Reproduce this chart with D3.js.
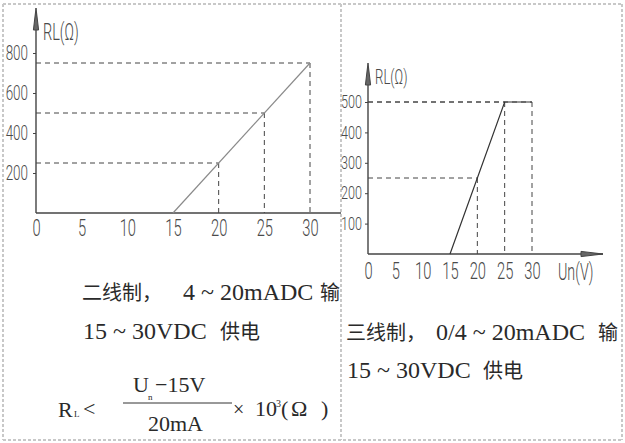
<!DOCTYPE html>
<html><head><meta charset="utf-8">
<script src="https://cdn.jsdelivr.net/npm/d3@7/dist/d3.min.js"></script>
<style>
html,body{margin:0;padding:0;background:#fff;}
svg{display:block;}
.tick text,.nar{font-family:Roboto,"DejaVu Sans",sans-serif;font-weight:300;fill:#4a4a4a;}
.ser{font-family:"Liberation Serif","Noto Sans CJK SC",serif;fill:#2a2a2a;}
.cjk{font-family:"Noto Sans CJK SC",sans-serif;font-weight:400;}
</style></head>
<body>
<script>
// ---- data ----
const leftXTicks = [0, 5, 10, 15, 20, 25, 30];
const leftYTicks = [200, 400, 600, 800];
const leftLineX = [15, 30];
const leftLineY = [0, 750];
const leftGuideX = [20, 25, 30];
const leftGuideY = [250, 500, 750];

const rightXTicks = [0, 5, 10, 15, 20, 25, 30];
const rightYTicks = [100, 200, 300, 400, 500];
const rightLineX = [15, 25, 30];
const rightLineY = [0, 500, 500];
const rightGuideX = [20, 25, 30];
const rightGuideY = [250, 500, 500];

const yTitle = "RL(Ω)";
const xTitle = "Un(V)";
const leftText1 = ["二线制，", "4 ~ 20mADC", "输"];
const leftText2 = ["15 ~ 30VDC", "供电"];
const rightText1 = ["三线制，", "0/4 ~ 20mADC", "输"];
const rightText2 = ["15 ~ 30VDC", "供电"];

// ---- svg ----
const W = 625, H = 443;
const svg = d3.select("body").append("svg").attr("width", W).attr("height", H);

// panel borders
const bc = "#c8c8c8";
function dl(x1,y1,x2,y2){
  svg.append("line").attr("x1",x1).attr("y1",y1).attr("x2",x2).attr("y2",y2)
    .attr("stroke",bc).attr("stroke-width",2).attr("stroke-dasharray","3,2");
}
dl(3,4,622,4); dl(3,440,622,440); dl(3,4,3,440); dl(341,4,341,440); dl(622,4,622,440);

const axisColor = "#444";

// horizontally condense a text selection keeping its anchor position
function narrow(sel, sx){
  sel.each(function(){
    const t = d3.select(this);
    const x = +(t.attr("x") || 0);
    t.attr("x", x/sx).attr("transform", `scale(${sx},1)`);
  });
}

function drawPanel(opt){
  const x = d3.scaleLinear().domain([0,30]).range(opt.xr);
  const y = d3.scaleLinear().domain(opt.yd).range(opt.yr);
  const g = svg.append("g");
  const x0 = x(0), y0 = y(0);

  // guides
  const guides = opt.gx.map((v,i)=>({x:v,y:opt.gy[i]}));
  guides.forEach(d=>{
    g.append("line").attr("x1",x0).attr("x2",x(d.x)).attr("y1",y(d.y)).attr("y2",y(d.y))
      .attr("stroke","#444").attr("stroke-width",1).attr("stroke-dasharray","5,4");
    g.append("line").attr("x1",x(d.x)).attr("x2",x(d.x)).attr("y1",y(d.y)).attr("y2",y0)
      .attr("stroke","#444").attr("stroke-width",1).attr("stroke-dasharray","5,4");
  });

  // axes
  const ax = d3.axisBottom(x).tickValues(opt.xt).tickSize(0).tickPadding(opt.xpad);
  const gx = g.append("g").attr("transform",`translate(0,${y0})`).call(ax);
  gx.select(".domain").remove();
  gx.selectAll(".tick text").attr("font-size",opt.xfs);
  narrow(gx.selectAll(".tick text"), opt.xsx);
  const ay = d3.axisLeft(y).tickValues(opt.yt).tickSizeInner(3).tickSizeOuter(0).tickPadding(opt.ypad);
  const gy = g.append("g").attr("transform",`translate(${x0},0)`).call(ay);
  gy.select(".domain").remove();
  gy.selectAll(".tick line").attr("stroke",axisColor);
  gy.selectAll(".tick text").attr("font-size",opt.yfs);
  narrow(gy.selectAll(".tick text"), opt.ysx);

  // axis lines
  g.append("line").attr("x1",x0).attr("x2",opt.xEnd).attr("y1",y0).attr("y2",y0)
    .attr("stroke",axisColor).attr("stroke-width",1.4);
  g.append("line").attr("x1",x0).attr("x2",x0).attr("y1",y0).attr("y2",opt.yTop+4)
    .attr("stroke",axisColor).attr("stroke-width",1.4);
  // y arrow
  g.append("path").attr("d",`M${x0},${opt.yTop} L${x0-2.6},${opt.yTop+22} L${x0+2.6},${opt.yTop+22} Z`)
    .attr("fill","#666").attr("stroke","#444").attr("stroke-width",1);
  if(opt.xArrow){
    g.append("path").attr("d",`M${opt.xEnd},${y0} L${opt.xEnd-22},${y0-2.6} L${opt.xEnd-22},${y0+2.6} Z`)
      .attr("fill","#666").attr("stroke","#444").attr("stroke-width",1);
  }

  // data line
  const pts = opt.lx.map((v,i)=>[v,opt.ly[i]]);
  g.append("path").attr("d", d3.line().x(d=>x(d[0])).y(d=>y(d[1]))(pts))
    .attr("fill","none").attr("stroke",opt.lineColor).attr("stroke-width",1.2);

  // titles
  const yt = g.append("text").attr("class","nar").attr("x",x0+7).attr("y",opt.yTitleY)
    .attr("font-size",opt.tfs).text(yTitle);
  narrow(yt, opt.tsx);
  if(opt.xTitle){
    const xt = g.append("text").attr("class","nar").attr("x",opt.xTitleX).attr("y",y0+26)
      .attr("font-size",opt.xtfs).text(opt.xTitle);
    narrow(xt, 0.62);
  }
}

drawPanel({xr:[36,310], yd:[0,800], yr:[213,53], xt:leftXTicks, yt:leftYTicks,
  gx:leftGuideX, gy:leftGuideY, lx:leftLineX, ly:leftLineY,
  xEnd:341, yTop:8, xArrow:false, lineColor:"#8a8a8a",
  xfs:23, xsx:0.64, yfs:21, ysx:0.64, xpad:7, ypad:5, tfs:23, tsx:0.63, yTitleY:40});
drawPanel({xr:[368,532], yd:[0,500], yr:[254,102], xt:rightXTicks, yt:rightYTicks,
  gx:rightGuideX, gy:rightGuideY, lx:rightLineX, ly:rightLineY,
  xEnd:603, yTop:63, xArrow:true, lineColor:"#333",
  xfs:23, xsx:0.64, yfs:18, ysx:0.7, xpad:9, ypad:3, tfs:21, tsx:0.63, yTitleY:84,
  xTitle:xTitle, xTitleX:558, xtfs:23});

// texts
const latFs = 24, cjkFs = 20;
function line(x, y, parts, xs){
  const t = svg.append("text").attr("class","ser").attr("y",y);
  parts.forEach((p,i)=>{
    const isCjk = /[\u4e00-\u9fff]/.test(p);
    t.append("tspan").attr("x", xs[i]).attr("class", isCjk ? "cjk" : null)
      .attr("font-size", isCjk ? cjkFs : latFs).text(p);
  });
}
line(82, 300, leftText1, [82, 183, 320]);
line(82, 339, leftText2, [83, 220]);
line(345, 340, rightText1, [346, 436, 598]);
line(345, 378, rightText2, [347, 483]);

// formula
const f = svg.append("g");
function ft(x,y,fs,s){ f.append("text").attr("class","ser").attr("x",x).attr("y",y).attr("font-size",fs).text(s); }
ft(58,417,22,"R");
ft(74,417,9,"L");
ft(83,416,22,"<");
ft(133,392,22,"U");
ft(148,400,9,"n");
ft(155,392,22,"−15V");
svg.append("line").attr("x1",123).attr("x2",232).attr("y1",403).attr("y2",403).attr("stroke","#333").attr("stroke-width",1);
ft(148,431,22,"20mA");
ft(233,416,20,"×");
ft(255,416,22,"10");
ft(276,407,10,"3");
ft(281,416,22,"(");
ft(291,416,22,"Ω");
ft(321,416,22,")");
</script>
</body></html>
